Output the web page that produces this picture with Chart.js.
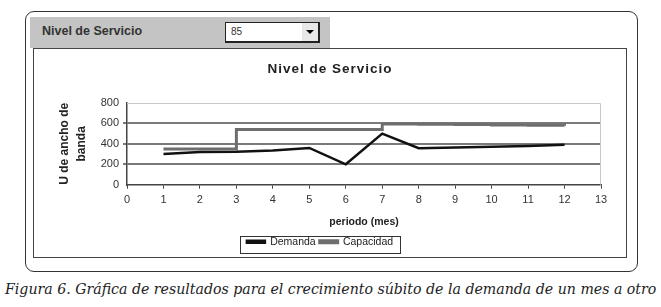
<!DOCTYPE html>
<html>
<head>
<meta charset="utf-8">
<script src="https://cdn.jsdelivr.net/npm/chart.js@4.4.0/dist/chart.umd.min.js"></script>
<style>
  body { margin: 0; background: #fff; width: 661px; height: 307px; position: relative; overflow: hidden; font-family: "Liberation Sans", Arial, sans-serif; }
  #frame { position: absolute; left: 25px; top: 11px; width: 611px; height: 259px; border: 1.5px solid #333; border-radius: 9px; }
  #header { position: absolute; left: 30px; top: 17px; width: 300px; height: 31px; background: #c4c4c4; }
  #header .lbl { position: absolute; left: 12px; top: 7px; font-size: 12.5px; font-weight: bold; color: #333; }
  #combo { position: absolute; left: 225px; top: 22px; width: 95px; height: 21px; background: #fff; border: 1px solid #222; border-right-width: 2px; border-bottom-width: 2px; box-sizing: border-box; }
  #combo .val { position: absolute; left: 5px; top: 3px; font-size: 10px; color: #333; }
  #combo .btn { position: absolute; right: 0; top: 0; width: 16px; height: 18px; background: #e8e8e8; }
  #combo .btn:after { content: ""; position: absolute; left: 4px; top: 7px; border-left: 4px solid transparent; border-right: 4px solid transparent; border-top: 4px solid #000; }
  #inner { position: absolute; left: 33px; top: 48px; width: 594px; height: 210px; border: 1.5px solid #444; box-sizing: border-box; }
  #chart { position: absolute; left: 33px; top: 48px; }
  #title { position: absolute; left: 230px; width: 200px; top: 61px; text-align: center; font-size: 13.5px; font-weight: bold; letter-spacing: 1px; color: #222; }
  #caption { position: absolute; left: 5px; top: 281px; font-family: "DejaVu Serif", serif; font-style: italic; font-size: 14.15px; color: #222; white-space: nowrap; }
</style>
</head>
<body>
<div id="frame"></div>
<div id="header"><span class="lbl">Nivel de Servicio</span></div>
<div id="combo"><span class="val">85</span><span class="btn"></span></div>
<div id="inner"></div>
<canvas id="chart" width="594" height="210"></canvas>
<div id="title">Nivel de Servicio</div>
<div id="caption">Figura 6. Gráfica de resultados para el crecimiento súbito de la demanda de un mes a otro</div>
<script>
// Datos
const meses = [1, 2, 3, 4, 5, 6, 7, 8, 9, 10, 11, 12];
const demanda = [300, 320, 322, 335, 360, 200, 500, 358, 365, 372, 380, 390];
const capacidad = [350, 350, 540, 540, 540, 540, 595, 592, 589, 585, 582, 578];
const yTicks = [0, 200, 400, 600, 800];

const fontBase = { family: '"Liberation Sans", Arial, sans-serif', size: 11 };

// Borde gris claro del área de trazado
const plotBorder = {
    id: 'plotBorder',
    beforeDatasetsDraw(chart) {
        const a = chart.chartArea;
        const ctx = chart.ctx;
        ctx.save();
        ctx.strokeStyle = '#c8c8c8';
        ctx.lineWidth = 1;
        ctx.beginPath();
        ctx.moveTo(a.left, a.top + 0.5);
        ctx.lineTo(a.right - 0.5, a.top + 0.5);
        ctx.lineTo(a.right - 0.5, a.bottom);
        ctx.stroke();
        ctx.restore();
    }
};

// Recuadro alrededor de la leyenda
const legendBox = {
    id: 'legendBox',
    afterDraw(chart) {
        const l = chart.legend;
        const ctx = chart.ctx;
        const w = 160, h = 17;
        const x = Math.round((l.left + l.right) / 2 - w / 2) + 0.5;
        const y = Math.round(l.top + (l.height - h) / 2) + 0.5;
        ctx.save();
        ctx.strokeStyle = '#333';
        ctx.lineWidth = 1;
        ctx.strokeRect(x, y, w, h);
        ctx.restore();
    }
};

function toPoints(values) {
    return meses.map((m, i) => ({ x: m, y: values[i] }));
}

new Chart(document.getElementById('chart'), {
    type: 'line',
    data: {
        datasets: [{
            label: 'Demanda',
            data: toPoints(demanda),
            borderColor: '#111',
            backgroundColor: '#111',
            borderWidth: 2.5,
            pointRadius: 0,
            tension: 0
        }, {
            label: 'Capacidad',
            data: toPoints(capacidad),
            borderColor: '#6e6e6e',
            backgroundColor: '#6e6e6e',
            borderWidth: 3,
            pointRadius: 0,
            stepped: 'before'
        }]
    },
    options: {
        responsive: false,
        animation: false,
        layout: { padding: { left: 6, right: 26, top: 55, bottom: 1 } },
        plugins: {
            title: { display: false },
            legend: {
                position: 'bottom',
                labels: {
                    color: '#222',
                    font: { ...fontBase, size: 10.5 },
                    boxWidth: 18,
                    boxHeight: 2,
                    padding: 4
                }
            },
            tooltip: { enabled: false }
        },
        scales: {
            x: {
                type: 'linear',
                min: 0,
                max: 13,
                ticks: { stepSize: 1, color: '#333', font: fontBase, padding: 5 },
                grid: { drawOnChartArea: false, drawTicks: true, tickLength: 4, color: '#444' },
                border: { color: '#444', width: 1.5 },
                title: {
                    display: true,
                    text: 'periodo (mes)',
                    color: '#222',
                    font: { ...fontBase, size: 10.5, weight: 'bold' },
                    padding: { top: 4, bottom: 4 }
                }
            },
            y: {
                min: 0,
                max: 800,
                afterBuildTicks(scale) {
                    scale.ticks = yTicks.map(v => ({ value: v }));
                },
                afterFit(scale) { scale.width = 88; },
                ticks: { color: '#333', font: fontBase, padding: 4 },
                grid: {
                    tickLength: 4,
                    color: ctx => (ctx.tick && (ctx.tick.value === 800 || ctx.tick.value === 0)) ? 'rgba(0,0,0,0)' : '#7a7a7a',
                    lineWidth: 2
                },
                border: { color: '#444', width: 1.5 },
                title: {
                    display: true,
                    text: ['U de ancho de', 'banda'],
                    color: '#222',
                    font: { ...fontBase, size: 12, weight: 'bold', lineHeight: 1.4 },
                    padding: { top: 17, bottom: 0 }
                }
            }
        }
    },
    plugins: [plotBorder, legendBox]
});
</script>
</body>
</html>
